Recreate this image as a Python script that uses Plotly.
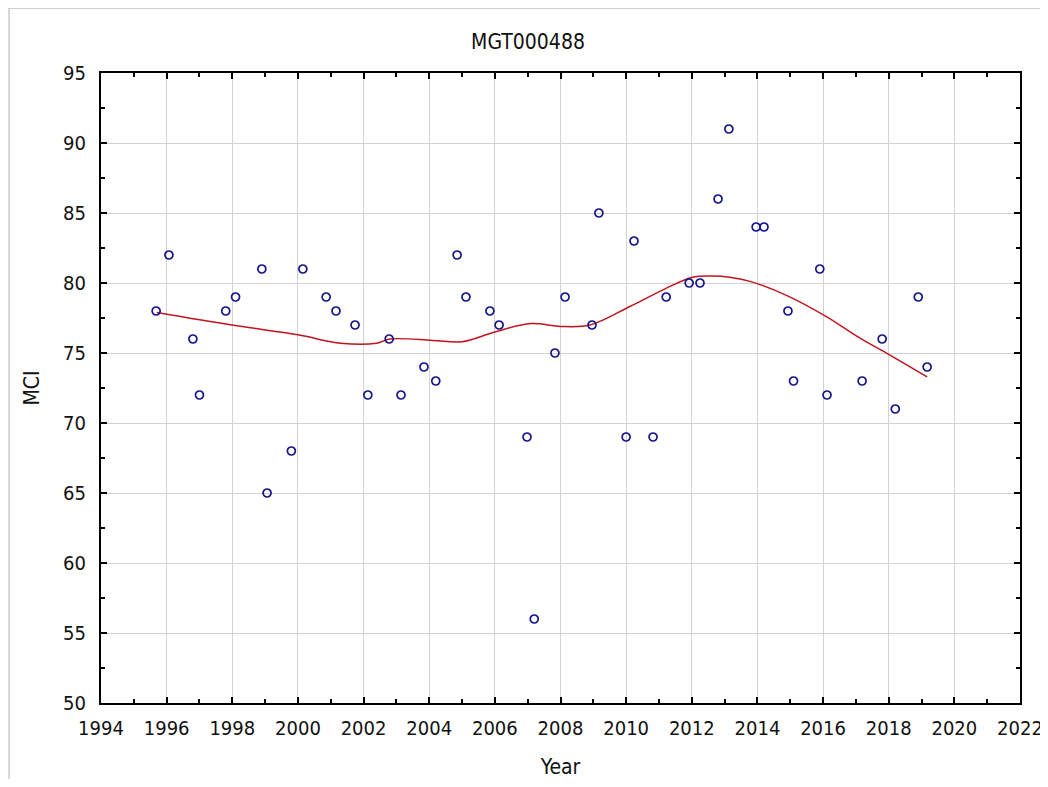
import plotly.graph_objects as go

years = [1995.68, 1996.07, 1996.8, 1997.0, 1997.8, 1998.1, 1998.9, 1999.06, 1999.8, 2000.15,
         2000.86, 2001.16, 2001.74, 2002.13, 2002.78, 2003.14, 2003.84, 2004.2, 2004.85, 2005.12,
         2005.85, 2006.13, 2006.98, 2007.2, 2007.83, 2008.14, 2008.96, 2009.17, 2010.0, 2010.24,
         2010.82, 2011.22, 2011.92, 2012.25, 2012.8, 2013.13, 2013.96, 2014.2, 2014.93, 2015.1,
         2015.9, 2016.12, 2017.19, 2017.8, 2018.2, 2018.9, 2019.17]
mci = [78, 82, 76, 72, 78, 79, 81, 65, 68, 81,
       79, 78, 77, 72, 76, 72, 74, 73, 82, 79,
       78, 77, 69, 56, 75, 79, 77, 85, 69, 83,
       69, 79, 80, 80, 86, 91, 84, 84, 78, 73,
       81, 72, 73, 76, 71, 79, 74]

# Smoothed fit curve
fit_years = [1995.7, 1998.0, 2000.0, 2001.3, 2002.4, 2002.8, 2004.1, 2005.0, 2006.0, 2007.1,
             2008.0, 2008.9, 2010.1, 2011.2, 2012.0, 2012.6, 2013.2, 2013.8, 2014.9, 2016.1,
             2017.1, 2018.0, 2019.17]
fit_mci = [77.9, 77.0, 76.3, 75.7, 75.7, 76.0, 75.9, 75.8, 76.5, 77.1,
           76.9, 77.0, 78.3, 79.6, 80.4, 80.5, 80.4, 80.1, 79.1, 77.6,
           76.1, 74.9, 73.3]

x_ticks = list(range(1994, 2023, 2))
y_ticks = list(range(50, 96, 5))

FONT = "DejaVu Sans Condensed, Liberation Sans, sans-serif"

fig = go.Figure()
fig.add_trace(go.Scatter(
    x=fit_years, y=fit_mci, mode="lines",
    line=dict(color="#C0141E", width=1.5, shape="spline", smoothing=1.0),
    showlegend=False, hoverinfo="skip"))
fig.add_trace(go.Scatter(
    x=years, y=mci, mode="markers",
    marker=dict(symbol="circle-open", size=8, color="#14148c", line=dict(width=1.7, color="#14148c")),
    showlegend=False))

axis_common = dict(
    showline=True, linecolor="black", linewidth=2, mirror="ticks",
    ticks="inside", ticklen=6, tickcolor="black", tickwidth=1.5,
    showgrid=True, gridcolor="#d2d2d2", gridwidth=1,
    zeroline=False, automargin=False,
    tickfont=dict(family=FONT, size=20, color="#111111"),
)

fig.update_layout(
    width=1040, height=771,
    paper_bgcolor="white", plot_bgcolor="white",
    margin=dict(l=93, r=28, t=65, b=76, autoexpand=False),
    title=dict(text="MGT000488", x=0.5, xanchor="center", y=1 - 34 / 771, yanchor="middle",
               font=dict(family=FONT, size=21, color="#111111")),
    xaxis=dict(range=[1994, 2022], tickvals=x_ticks, ticklabelstandoff=6,
               title=dict(text="Year", font=dict(family=FONT, size=21, color="#111111"), standoff=20),
               minor=dict(dtick=1, ticks="inside", ticklen=4, tickcolor="black", showgrid=False),
               **axis_common),
    yaxis=dict(range=[50, 95], tickvals=y_ticks, ticklabelstandoff=9,
               title=dict(text="MCI", font=dict(family=FONT, size=21, color="#111111"), standoff=18),
               minor=dict(dtick=2.5, ticks="inside", ticklen=4, tickcolor="black", showgrid=False),
               **axis_common),
    shapes=[dict(type="rect", xref="paper", yref="paper",
                 x0=-0.1001, x1=1.028, y0=-0.2, y1=1.103,
                 line=dict(color="#b0b0b0", width=1), fillcolor="rgba(0,0,0,0)", layer="below")],
)

fig.write_html("out.html")
